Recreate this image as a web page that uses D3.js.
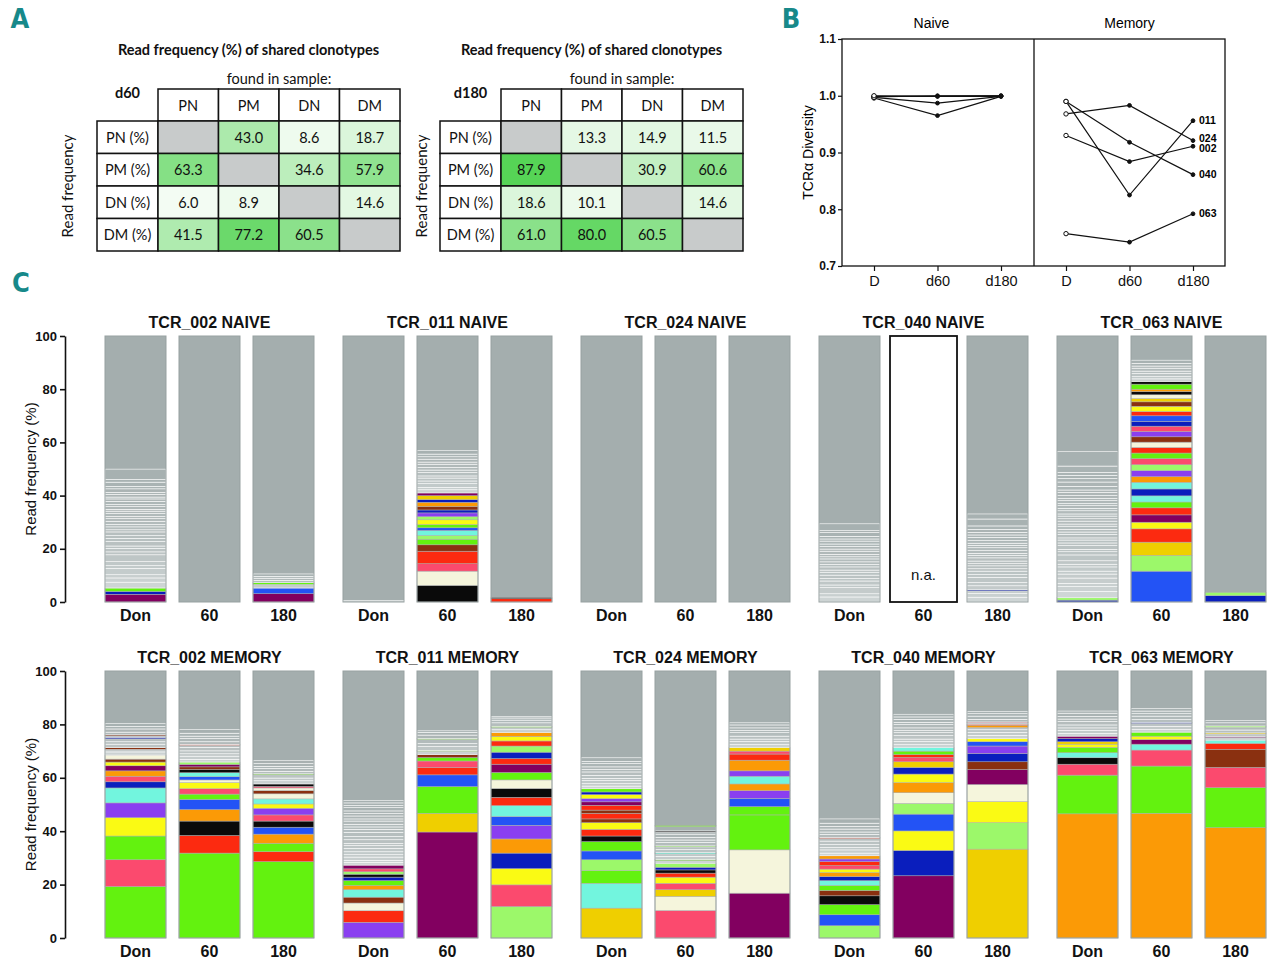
<!DOCTYPE html>
<html><head><meta charset="utf-8">
<script src="https://cdn.jsdelivr.net/npm/d3@7"></script>
<style>body{margin:0;background:#fff} svg{display:block}</style>
</head><body>
<svg id="chart" width="1280" height="972"></svg>
<script>
// ---------------- DATA ----------------
// Panel A
const tableRows = ["PN (%)", "PM (%)", "DN (%)", "DM (%)"];
const tableCols = ["PN", "PM", "DN", "DM"];
const d60Values = [
  [null, 43.0, 8.6, 18.7],
  [63.3, null, 34.6, 57.9],
  [6.0, 8.9, null, 14.6],
  [41.5, 77.2, 60.5, null]
];
const d180Values = [
  [null, 13.3, 14.9, 11.5],
  [87.9, null, 30.9, 60.6],
  [18.6, 10.1, null, 14.6],
  [61.0, 80.0, 60.5, null]
];
// Panel B
const diversityTimepoints = ["D", "d60", "d180"];
const patients = ["002", "011", "024", "040", "063"];
const naiveDiversity = [
  [0.999, 0.999, 0.999],
  [0.996, 0.965, 0.999],
  [0.998, 1.000, 1.000],
  [0.997, 0.987, 0.999],
  [1.000, 0.999, 1.000]
];
const memoryDiversity = [
  [0.930, 0.884, 0.911],
  [0.990, 0.825, 0.956],
  [0.968, 0.983, 0.921],
  [0.990, 0.918, 0.861],
  [0.757, 0.742, 0.792]
];
const diversityTicks = [0.7, 0.8, 0.9, 1.0, 1.1];
// Panel C
const barTimepoints = ["Don", "60", "180"];
const freqTicks = [0, 20, 40, 60, 80, 100];
const naiveTitles = patients.map(p => "TCR_" + p + " NAIVE");
const memoryTitles = patients.map(p => "TCR_" + p + " MEMORY");
// clonotype colour keys; plain numbers = small unnamed (grey) clonotypes
const cloneKeys = ["G","LG","Y","GO","O","R","P","M","V","B","NB","C","K","BR","CR"];
const cloneColors = ["#63f20f","#9cf86a","#fafa14","#efcf00","#fb9a06","#fc2a10","#fb4a6e","#820060","#8a3ff0","#2353f5","#0a1ebd","#72f5de","#0a0a0a","#8a3010","#f5f5dc"];

const naiveBars = [
  [ // 002
    [["M",2.9],["NB",1.1],["G",1.25],2.2,1.6,1.2,2.4,1.0,1.5,2.6,1.1,1.3,0.9,1.7,1.2,1.0,1.4,0.8,1.1,0.9,1.2,1.0,0.8,1.1,0.9,0.7,1.0,0.8,1.2,0.9,0.7,1.0,0.8,1.3,0.9,1.6,1.0,3.9],
    [],
    [["M",3.1],["B",2.15],1.4,["G",0.6],0.9,0.8,0.7,0.9]
  ],
  [ // 011
    [0.6],
    [["K",6.25],["CR",5.35],["P",2.8],["R",4.7],["BR",2.4],["G",2.1],["LG",1.4],["C",1.9],["B",1.0],["G",1.2],["Y",1.8],["LG",1.2],["V",1.4],["NB",1.1],["BR",1.3],["O",1.6],["NB",1.0],["GO",1.5],["M",1.0],1.2,0.9,1.4,1.0,1.1,0.8,1.3,0.9,1.0,1.2,0.8,1.1,0.9,1.0,1.3],
    [["R",1.25],["K",0.4]]
  ],
  [ // 024
    [], [], []
  ],
  [ // 040
    [1.9,1.2,2.3,1.0,1.5,0.9,1.3,1.1,0.8,1.2,0.9,1.0,1.1,0.8,0.9,1.2,0.8,1.0,0.9,1.1,0.8,1.0,1.4,0.7,2.6],
    null,
    [1.8,1.4,1.0,["NB",0.4],1.5,1.2,2.0,1.0,1.3,0.9,1.1,0.8,1.0,1.2,0.9,0.8,1.0,1.1,0.9,0.8,1.0,1.2,0.9,1.0,1.1,1.3,2.6,1.9]
  ],
  [ // 063
    [["NB",0.7],["LG",0.9],2.4,1.8,1.2,2.0,1.5,1.1,1.6,1.0,1.3,2.2,1.2,0.9,1.4,1.0,1.1,0.8,1.3,0.9,1.0,1.2,0.8,1.1,0.9,1.0,0.8,1.2,0.9,1.0,0.8,1.1,0.9,1.0,1.2,0.9,1.4,1.6,1.3,1.2,1.1,2.4,5.5],
    [["B",11.6],["LG",5.9],["GO",5.0],["R",5.0],["Y",2.5],["M",2.75],["R",2.65],["G",2.2],["C",2.3],["NB",2.6],["C",2.5],["O",2.1],["V",2.3],["LG",2.2],["P",2.3],["G",2.1],["R",2.1],["CR",2.0],["BR",2.0],["V",2.0],["P",2.0],["NB",1.8],["B",2.1],["R",1.6],["Y",2.0],["BR",1.65],["GO",1.25],["CR",1.4],["K",1.2],["O",0.9],["G",1.9],["K",1.0],1.0,0.8,1.2,0.9,1.1,0.8,1.0,1.2],
    [["NB",2.4],["LG",1.2]]
  ]
];

const memoryBars = [
  [ // 002
    [["G",19.3],["P",10.0],["G",8.9],["Y",6.9],["V",5.5],["C",5.6],["NB",2.3],["P",2.1],["O",2.0],["M",1.9],["Y",1.4],["BR",1.1],["CR",1.5],1.2,1.0,["BR",0.6],1.3,0.9,1.1,["NB",0.6],0.5,["BR",0.4],1.0,1.2,0.9,1.1],
    [["G",31.8],["R",6.6],["K",5.4],["O",4.3],["B",3.8],["G",2.0],["P",2.0],["Y",2.3],["CR",1.0],["B",1.2],["C",1.5],["K",1.2],["BR",1.0],["M",0.9],["LG",0.9],1.0,1.2,0.9,1.1,1.3,0.8,["R",0.3],1.0,1.2,0.9,1.1,1.4],
    [["G",28.6],["R",3.7],["G",3.2],["O",3.4],["B",2.6],["K",2.3],["P",2.3],["V",2.5],["Y",1.6],["C",1.9],["CR",1.9],["BR",1.2],["CR",1.0],["P",0.6],["K",0.9],1.2,1.0,1.3,["G",0.3],0.9,1.1,0.8,1.0,1.1]
  ],
  [ // 011
    [["V",5.9],["R",4.3],["CR",2.9],["BR",2.2],["C",2.8],["O",1.6],["G",1.8],["NB",1.3],["K",1.1],["LG",0.9],["P",1.1],["M",1.4],1.0,0.8,1.2,0.9,1.1,1.3,1.0,0.8,1.4,1.2,1.6,1.1,0.9,1.0,1.2,0.8,1.1,0.9,1.0,1.2,0.8,1.0,0.9],
    [["M",39.7],["GO",7.0],["G",10.0],["B",4.4],["R",2.7],["P",2.5],["G",1.3],["BR",1.1],1.2,["LG",0.4],1.4,1.1,1.6,["G",0.3],1.3,1.0,0.6],
    [["LG",11.8],["P",8.1],["Y",6.1],["NB",5.8],["O",5.3],["V",5.1],["B",3.3],["C",4.1],["R",3.1],["K",3.3],["CR",3.2],["G",2.8],["M",3.1],["R",2.1],["NB",2.4],["LG",2.3],["R",1.9],["Y",1.7],["O",1.5],1.0,0.9,["G",0.4],1.3,1.0,0.8,0.6]
  ],
  [ // 024
    [["GO",11.2],["C",9.3],["G",4.7],["LG",4.1],["B",3.3],["G",3.5],["K",2.1],["R",2.5],["Y",2.5],["BR",1.4],["R",2.1],["BR",1.2],["R",1.8],["M",1.3],["V",1.2],["Y",1.5],["NB",1.0],["G",1.2],1.0,0.9,1.2,0.8,1.1,1.3,0.9,1.0,1.2,0.8,1.4],
    [["P",10.3],["CR",5.3],["GO",2.5],["P",2.4],["Y",2.3],["R",1.5],["K",1.2],["NB",1.0],["LG",1.5],1.0,["G",0.4],1.2,0.9,["C",0.5],1.1,1.0,["LG",0.4],1.3,0.9,1.0,1.2,0.8,["K",0.4],1.6,["G",0.4]],
    [["M",16.8],["CR",16.2],["G",13.1],["G",3.1],["B",3.1],["V",2.9],["O",2.5],["C",2.9],["V",2.0],["O",4.0],["R",2.3],["P",1.1],["GO",1.4],1.0,1.2,0.9,1.1,1.3,0.8,1.0,1.1,0.8]
  ],
  [ // 040
    [["LG",4.6],["B",4.1],["G",3.8],["K",3.3],["BR",2.0],["G",1.9],["C",1.8],["NB",1.5],["O",1.5],["Y",1.3],["P",1.3],["R",1.5],["V",1.0],["O",1.2],1.0,1.2,0.9,1.1,1.3,1.0,["R",0.3],1.2,0.9,1.1,1.0,1.2,1.6],
    [["M",23.3],["NB",9.5],["Y",7.3],["B",6.3],["LG",4.0],["CR",4.0],["O",3.8],["Y",3.2],["NB",2.5],["GO",2.1],["P",1.6],["R",1.1],["G",1.3],["C",1.4],1.0,1.2,0.9,1.3,1.1,0.8,1.0,1.2,0.9,1.1,0.9,1.0],
    [["GO",33.3],["LG",9.9],["Y",7.9],["CR",6.4],["M",5.6],["BR",2.9],["NB",3.1],["V",2.8],["B",1.6],["Y",1.2],1.2,1.1,1.0,0.8,["O",0.9],["R",0.4],0.5,["P",0.3],1.0,1.2,0.9,0.9]
  ],
  [ // 063
    [["O",46.5],["G",14.5],["P",4.1],["K",2.4],["C",1.9],["G",2.0],["Y",1.2],["GO",0.9],["NB",1.2],["M",0.9],1.0,1.2,0.9,1.1,1.3,0.9,1.0,1.2,0.8],
    [["O",46.7],["G",17.7],["P",6.0],["C",2.2],["M",1.7],["Y",1.3],["G",1.5],1.0,1.2,1.1,["NB",0.4],1.0,1.3,0.9,1.0,0.9],
    [["O",41.3],["G",15.0],["P",7.6],["BR",6.8],["R",2.2],["C",1.2],1.0,["M",0.4],0.9,["GO",0.4],1.1,1.0,["LG",0.5],1.2,0.8]
  ]
];

// ---------------- DRAWING ----------------
const svg = d3.select("#chart");
const ARIAL = "'Liberation Sans', Arial, Helvetica, sans-serif";
const CAL = "Lato, 'Open Sans', sans-serif";
const TEAL = "#17898a";

// panel letters
const letters = svg.append("g")
  .attr("font-family", "'Liberation Sans Narrow', 'DejaVu Sans Condensed', " + ARIAL)
  .attr("font-weight", "bold").attr("font-size", 27).attr("fill", TEAL)
  .attr("text-anchor", "middle");
letters.append("text").attr("x", 20).attr("y", 28).text("A");
letters.append("text").attr("x", 791).attr("y", 28).text("B");
letters.append("text").attr("x", 21).attr("y", 292).text("C");

// ---- Panel A ----
const cellColor = d3.scaleLinear().domain([0, 90]).range(["#ffffff", "#52d352"]).clamp(true);

function drawTable(values, dayLabel, labelLeft, bodyLeft, bodyRight, sideLabelX) {
  const g = svg.append("g").attr("font-family", CAL).attr("fill", "#111");
  const cx = d3.scaleBand().domain(tableCols).range([bodyLeft, bodyRight]);
  const ry = d3.scaleBand().domain(tableRows).range([121, 251]);
  const headTop = 89;
  g.append("text").attr("x", (labelLeft + bodyRight) / 2).attr("y", 55)
    .attr("text-anchor", "middle").attr("font-weight", "bold").attr("font-size", 14.5)
    .text("Read frequency (%) of shared clonotypes");
  g.append("text").attr("x", (bodyLeft + bodyRight) / 2).attr("y", 84)
    .attr("text-anchor", "middle").attr("font-size", 14.5).text("found in sample:");
  g.append("text").attr("x", (labelLeft + bodyLeft) / 2).attr("y", 98)
    .attr("text-anchor", "middle").attr("font-weight", "bold").attr("font-size", 14.5).text(dayLabel);
  g.append("text").attr("transform", `translate(${sideLabelX},${(121 + 251) / 2}) rotate(-90)`)
    .attr("text-anchor", "middle").attr("dy", "0.35em").attr("font-size", 15).text("Read frequency");
  tableCols.forEach(c => {
    g.append("rect").attr("x", cx(c)).attr("y", headTop).attr("width", cx.bandwidth())
      .attr("height", 121 - headTop).attr("fill", "#fff").attr("stroke", "#111").attr("stroke-width", 1.5);
    g.append("text").attr("x", cx(c) + cx.bandwidth() / 2).attr("y", (headTop + 121) / 2)
      .attr("dy", "0.38em").attr("text-anchor", "middle").attr("font-size", 14.5).text(c);
  });
  tableRows.forEach((r, i) => {
    g.append("rect").attr("x", labelLeft).attr("y", ry(r)).attr("width", bodyLeft - labelLeft)
      .attr("height", ry.bandwidth()).attr("fill", "#fff").attr("stroke", "#111").attr("stroke-width", 1.5);
    g.append("text").attr("x", (labelLeft + bodyLeft) / 2).attr("y", ry(r) + ry.bandwidth() / 2)
      .attr("dy", "0.38em").attr("text-anchor", "middle").attr("font-size", 14.5).text(r);
    tableCols.forEach((c, j) => {
      const v = values[i][j];
      g.append("rect").attr("x", cx(c)).attr("y", ry(r)).attr("width", cx.bandwidth())
        .attr("height", ry.bandwidth()).attr("fill", v == null ? "#c8cbcb" : cellColor(v))
        .attr("stroke", "#111").attr("stroke-width", 1.5);
      if (v != null) {
        g.append("text").attr("x", cx(c) + cx.bandwidth() / 2).attr("y", ry(r) + ry.bandwidth() / 2)
          .attr("dy", "0.38em").attr("text-anchor", "middle").attr("font-size", 14.5).text(v.toFixed(1));
      }
    });
  });
}
drawTable(d60Values, "d60", 97, 158, 400, 68);
drawTable(d180Values, "d180", 440, 501, 743, 422);

// ---- Panel B ----
(function () {
  const left = 842, right = 1225, top = 39, bottom = 266, mid = 1034;
  const g = svg.append("g").attr("font-family", ARIAL);
  const y = d3.scaleLinear().domain([0.7, 1.1]).range([bottom, top]);
  const xN = d3.scalePoint().domain(diversityTimepoints).range([874, 1001]);
  const xM = d3.scalePoint().domain(diversityTimepoints).range([1066, 1193]);
  g.append("rect").attr("x", left).attr("y", top).attr("width", right - left).attr("height", bottom - top)
    .attr("fill", "none").attr("stroke", "#111").attr("stroke-width", 1.3);
  g.append("line").attr("x1", mid).attr("x2", mid).attr("y1", top).attr("y2", bottom)
    .attr("stroke", "#111").attr("stroke-width", 1.3);
  const ya = g.append("g").attr("transform", `translate(${left},0)`)
    .call(d3.axisLeft(y).tickValues(diversityTicks).tickFormat(d3.format(".1f")).tickSize(4).tickSizeOuter(0).tickPadding(2));
  ya.select(".domain").remove();
  ya.selectAll("text").attr("font-weight", "bold").attr("font-size", 12).attr("font-family", ARIAL).attr("fill", "#111");
  ya.selectAll("line").attr("stroke", "#111").attr("stroke-width", 1.2);
  [xN, xM].forEach(xs => {
    const xa = g.append("g").attr("transform", `translate(0,${bottom})`)
      .call(d3.axisBottom(xs).tickSize(5).tickSizeOuter(0).tickPadding(5));
    xa.select(".domain").remove();
    xa.selectAll("text").attr("font-size", 14.5).attr("font-family", ARIAL).attr("fill", "#111");
    xa.selectAll("line").attr("stroke", "#111").attr("stroke-width", 1.2);
  });
  g.append("text").attr("x", xN("d60") - 6).attr("y", 28).attr("text-anchor", "middle")
    .attr("font-size", 14).text("Naive");
  g.append("text").attr("x", xM("d60")).attr("y", 28).attr("text-anchor", "middle")
    .attr("font-size", 14).text("Memory");
  g.append("text").attr("transform", `translate(808,${(top + bottom) / 2}) rotate(-90)`)
    .attr("text-anchor", "middle").attr("dy", "0.35em").attr("font-size", 14).text("TCRα Diversity");

  const line = xs => d3.line().x((d, i) => xs(diversityTimepoints[i])).y(d => y(d));
  function series(data, xs) {
    data.forEach(vals => {
      g.append("path").attr("d", line(xs)(vals)).attr("fill", "none").attr("stroke", "#111").attr("stroke-width", 1.2);
      vals.forEach((v, i) => {
        g.append("circle").attr("cx", xs(diversityTimepoints[i])).attr("cy", y(v))
          .attr("r", i === 0 ? 2.2 : 1.9)
          .attr("fill", i === 0 ? "#fff" : "#111").attr("stroke", "#111").attr("stroke-width", 1);
      });
    });
  }
  series(naiveDiversity, xN);
  series(memoryDiversity, xM);
  const labs = patients.map((p, i) => ({ p, y: y(memoryDiversity[i][2]) })).sort((a, b) => a.y - b.y);
  for (let it = 0; it < 30; it++) {
    for (let k = 1; k < labs.length; k++) {
      const gap = labs[k].y - labs[k - 1].y;
      if (gap < 10.5) { const d = (10.5 - gap) / 2; labs[k].y += d; labs[k - 1].y -= d; }
    }
  }
  labs.forEach(l => {
    g.append("text").attr("x", xM("d180") + 6).attr("y", l.y).attr("dy", "0.35em")
      .attr("font-size", 10.5).attr("font-weight", "bold").text(l.p);
  });
})();

// ---- Panel C ----
const cloneColor = d3.scaleOrdinal().domain(cloneKeys).range(cloneColors);
const groupX = d3.scaleBand().domain(d3.range(5)).range([90.5, 1280.5]).paddingInner(29 / 238).paddingOuter(0.0609);
const barX = d3.scaleBand().domain(barTimepoints).range([0, groupX.bandwidth()]).paddingInner(13 / 74).paddingOuter(0);
const BAR_GREY = "#a4aeae";

function drawRow(bars, titles, y) {
  const g = svg.append("g").attr("font-family", ARIAL);
  const ax = g.append("g").attr("transform", "translate(65,0)")
    .call(d3.axisLeft(y).tickValues(freqTicks).tickSize(5).tickSizeOuter(0).tickPadding(3));
  ax.select(".domain").attr("stroke", "#111").attr("stroke-width", 1.6);
  ax.selectAll("line").attr("stroke", "#111").attr("stroke-width", 1.6);
  ax.selectAll("text").attr("font-weight", "bold").attr("font-size", 13).attr("font-family", ARIAL).attr("fill", "#111");
  g.append("text").attr("transform", `translate(31,${(y(0) + y(100)) / 2}) rotate(-90)`)
    .attr("text-anchor", "middle").attr("dy", "0.35em").attr("font-size", 15).attr("fill", "#111")
    .text("Read frequency (%)");

  bars.forEach((group, gi) => {
    const gx = groupX(gi);
    g.append("text").attr("x", gx + groupX.bandwidth() / 2).attr("y", y(100) - 8)
      .attr("text-anchor", "middle").attr("font-weight", "bold").attr("font-size", 16).attr("fill", "#111")
      .text(titles[gi]);
    group.forEach((segs, ti) => {
      const tp = barTimepoints[ti];
      const x0 = gx + barX(tp), w = barX.bandwidth();
      g.append("text").attr("x", x0 + w / 2).attr("y", y(0) + 19).attr("text-anchor", "middle")
        .attr("font-weight", "bold").attr("font-size", 16).attr("fill", "#111").text(tp);
      if (segs == null) {
        g.append("rect").attr("x", x0 - 3).attr("y", y(100)).attr("width", w + 6).attr("height", y(0) - y(100))
          .attr("fill", "#fff").attr("stroke", "#111").attr("stroke-width", 1.8);
        g.append("text").attr("x", x0 + w / 2).attr("y", y(10) + 5).attr("text-anchor", "middle")
          .attr("font-size", 15).attr("fill", "#111").text("n.a.");
        return;
      }
      g.append("rect").attr("x", x0).attr("y", y(100)).attr("width", w).attr("height", y(0) - y(100))
        .attr("fill", BAR_GREY);
      const items = segs.map(s => Array.isArray(s) ? { key: s[0], v: s[1] } : { key: null, v: s });
      let acc = 0;
      items.forEach(it => { it.lo = acc; acc += it.v; it.hi = acc; });
      const greys = items.filter(it => it.key == null);
      const zLo = greys.length ? d3.min(greys, d => d.lo) : 0;
      const zHi = greys.length ? d3.max(greys, d => d.hi) : 1;
      const greyFill = d3.interpolateRgb("#d6dcdc", "#a6b0b0");
      items.forEach(it => {
        const isGrey = it.key == null;
        const t = isGrey ? ((it.lo + it.hi) / 2 - zLo) / Math.max(1e-6, zHi - zLo) : 0;
        g.append("rect").attr("x", x0).attr("y", y(it.hi)).attr("width", w)
          .attr("height", Math.max(0.3, y(it.lo) - y(it.hi)))
          .attr("fill", isGrey ? greyFill(Math.sqrt(t)) : cloneColor(it.key))
          .attr("stroke", isGrey ? "#ffffff" : "#b4b4b4")
          .attr("stroke-width", isGrey ? 0.6 : 0.5);
      });
      g.append("rect").attr("x", x0).attr("y", y(100)).attr("width", w).attr("height", y(0) - y(100))
        .attr("fill", "none").attr("stroke", "#97a1a1").attr("stroke-width", 1);
    });
  });
}
drawRow(naiveBars, naiveTitles, d3.scaleLinear().domain([0, 100]).range([602, 336]));
drawRow(memoryBars, memoryTitles, d3.scaleLinear().domain([0, 100]).range([938, 671]));
</script>
</body></html>
